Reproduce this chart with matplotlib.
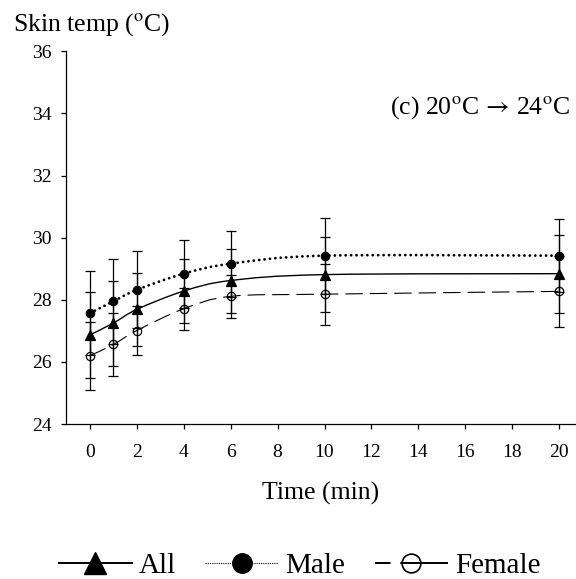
import matplotlib
matplotlib.use("Agg")
import matplotlib.pyplot as plt
from matplotlib.path import Path
from matplotlib.patches import PathPatch
from matplotlib.lines import Line2D

# dati
tempo = [0, 1, 2, 4, 6, 10, 20]
all_media = [26.87, 27.25, 27.69, 28.28, 28.62, 28.81, 28.84]
all_err = [1.38, 1.37, 1.18, 1.04, 1.03, 1.21, 1.25]
male_media = [27.57, 27.95, 28.32, 28.84, 29.16, 29.42, 29.42]
male_err = [1.35, 1.36, 1.24, 1.10, 1.06, 1.22, 1.18]
female_media = [26.20, 26.56, 27.01, 27.71, 28.11, 28.18, 28.27]
female_err = [1.10, 1.03, 0.80, 0.68, 0.70, 0.98, 1.15]

x_ticks = [0, 2, 4, 6, 8, 10, 12, 14, 16, 18, 20]
y_ticks = [24, 26, 28, 30, 32, 34, 36]

plt.rcParams['font.family'] = ['Liberation Serif', 'DejaVu Serif']
plt.rcParams['mathtext.fontset'] = 'stix'


def curva_smussata(xs, ys):
    # linea smussata tipo Excel (Catmull-Rom -> Bezier)
    pts = list(zip(xs, ys))
    verts = [pts[0]]
    codes = [Path.MOVETO]
    n = len(pts)
    for i in range(n - 1):
        p0 = pts[i - 1] if i > 0 else pts[i]
        p1 = pts[i]
        p2 = pts[i + 1]
        p3 = pts[i + 2] if i + 2 < n else pts[i + 1]
        c1 = (p1[0] + (p2[0] - p0[0]) / 6, p1[1] + (p2[1] - p0[1]) / 6)
        c2 = (p2[0] - (p3[0] - p1[0]) / 6, p2[1] - (p3[1] - p1[1]) / 6)
        verts += [c1, c2, p2]
        codes += [Path.CURVE4] * 3
    return Path(verts, codes)


fig = plt.figure(figsize=(5.76, 5.79), dpi=100)
ax = fig.add_axes([0.1146, 0.2677, 0.8854, 0.6437])

serie = [
    (all_media, all_err, '^', 'black', '-', 1.0, 6.5),
    (male_media, male_err, 'o', 'black', (0, (0.05, 1.9)), 2.0, 6),
    (female_media, female_err, 'o', 'none', (0, (15, 7)), 0.8, 6),
]

for media, err, mk, fc, ls, lw, ms in serie:
    patch = PathPatch(curva_smussata(tempo, media), fill=False, edgecolor='black',
                      linestyle=ls, linewidth=lw, capstyle='round')
    ax.add_patch(patch)
    ax.errorbar(tempo, media, yerr=err, fmt=mk, color='black', mfc=fc, mec='black',
                ms=ms, mew=0.9, ecolor='black', elinewidth=0.9, capsize=3.6, capthick=0.9,
                zorder=3)

ax.set_xlim(-1.02, 20.72)
ax.set_ylim(24, 36)
ax.set_xticks(x_ticks)
ax.set_yticks(y_ticks)
ax.tick_params(axis='both', direction='out', length=3.6, width=0.9, labelsize=14)
ax.tick_params(axis='x', pad=11)
ax.tick_params(axis='y', pad=6.5)
for s in ['top', 'right']:
    ax.spines[s].set_visible(False)
for s in ['left', 'bottom']:
    ax.spines[s].set_linewidth(0.9)

ax.set_xlabel('Time (min)', fontsize=18.5, labelpad=15)
fig.text(0.0226, 0.957, r'Skin temp ($^{\mathrm{o}}$C)', fontsize=18.5, ha='left', va='center')
fig.text(0.99, 0.815, r'(c) 20$^{\mathrm{o}}$C$\,\rightarrow\,$24$^{\mathrm{o}}$C',
         fontsize=18.5, ha='right', va='center')

handles = [
    Line2D([], [], color='black', lw=1.4, ls='-', marker='^', ms=16, mfc='black'),
    Line2D([], [], color='black', lw=0.8, ls=(0, (1, 1)), marker='o', ms=14, mfc='black'),
    Line2D([], [], color='black', lw=1.4, ls=(0, (8, 5, 30, 5)), marker='o', ms=13.5,
           mfc='none', mew=1.2),
]
fig.legend(handles, ['All', 'Male', 'Female'], loc='center', bbox_to_anchor=(0.52, 0.022),
           ncol=3, frameon=False, fontsize=21, handlelength=2.5, columnspacing=1.0,
           handletextpad=0.25, borderpad=0.1)

fig.savefig('out.png', dpi=100)
